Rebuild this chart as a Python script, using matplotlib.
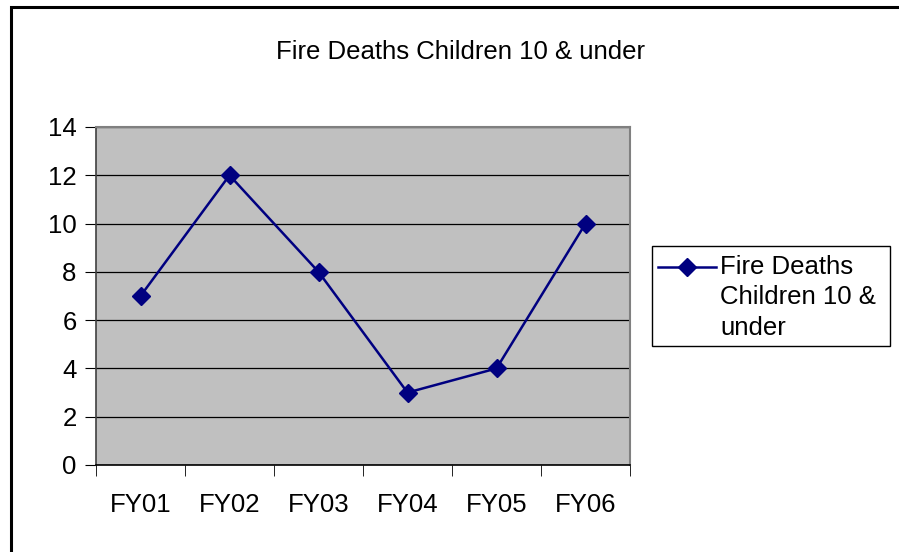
import numpy as np
import matplotlib.pyplot as plt
from matplotlib.patches import Rectangle
from matplotlib.lines import Line2D

years = ['FY01', 'FY02', 'FY03', 'FY04', 'FY05', 'FY06']
deaths = [7, 12, 8, 3, 4, 10]
yticks = [0, 2, 4, 6, 8, 10, 12, 14]

plt.rcParams['font.family'] = 'Liberation Sans'

W, H = 899, 552
fig = plt.figure(figsize=(W/100, H/100), dpi=100)
navy = '#000080'

# outer chart frame (cut off on right and bottom)
fig.patches.append(Rectangle((11/W, -0.1), 1.2, 1 - 7/H + 0.1, transform=fig.transFigure,
                             fill=False, edgecolor='black', linewidth=2.2, zorder=0))

ax = fig.add_axes([96/W, 1 - 465/H, (630-96)/W, (465-127)/H])
ax.set_facecolor('#c0c0c0')
x = np.arange(len(years))
ax.plot(x, deaths, color=navy, marker='D', markersize=9, linewidth=1.8, zorder=3)

ax.set_xlim(-0.5, 5.5)
ax.set_ylim(0, 14)
ax.set_yticks(yticks)
ax.yaxis.grid(True, color='black', linewidth=0.9)
ax.set_axisbelow(True)
ax.set_xticks(x)
ax.set_xticklabels(years)
ax.set_xticks(np.arange(-0.5, 6, 1), minor=True)
ax.tick_params(axis='x', which='major', length=0, pad=20, labelsize=18.5)
ax.tick_params(axis='x', which='minor', length=8, color='black', direction='out')
ax.tick_params(axis='y', length=8, color='black', direction='out', labelsize=18.5, pad=6)

for s in ['top', 'right']:
    ax.spines[s].set_color('#808080')
    ax.spines[s].set_linewidth(1.5)
ax.spines['left'].set_color('#404040')
ax.spines['bottom'].set_color('black')
ax.spines['left'].set_linewidth(1.2)
ax.spines['bottom'].set_linewidth(1.2)

fig.text(461/W, 1 - 52/H, 'Fire Deaths Children 10 & under', ha='center', va='center', fontsize=18.5)

# legend box drawn by hand, like the spreadsheet legend
fig.patches.append(Rectangle((652/W, 1 - 346/H), (890-652)/W, (346-246)/H, transform=fig.transFigure,
                             fill=True, facecolor='white', edgecolor='black', linewidth=1.0))
fig.add_artist(Line2D([658/W, 716/W], [1 - 267/H, 1 - 267/H], transform=fig.transFigure,
                      color=navy, linewidth=1.8))
fig.add_artist(Line2D([687/W], [1 - 267/H], transform=fig.transFigure,
                      color=navy, marker='D', markersize=9))
fig.text(720/W, 1 - 255/H, 'Fire Deaths\nChildren 10 &\nunder', ha='left', va='top',
         fontsize=18.5, linespacing=1.33)

plt.savefig('out.png', dpi=100)
